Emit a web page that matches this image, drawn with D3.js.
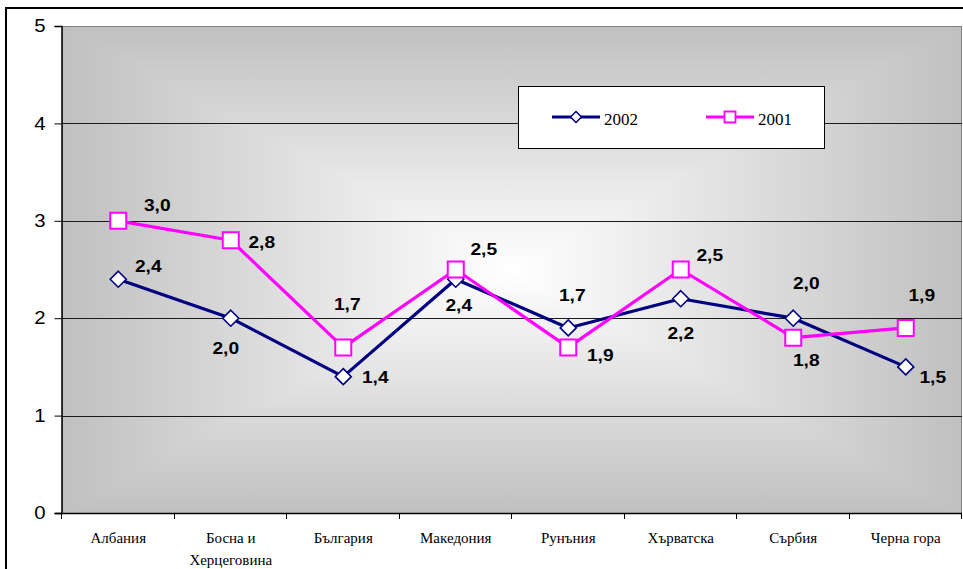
<!DOCTYPE html>
<html>
<head>
<meta charset="utf-8">
<script src="https://cdn.jsdelivr.net/npm/d3@7"></script>
<style>
  html, body { margin: 0; padding: 0; background: #fff; }
  svg { display: block; }
</style>
</head>
<body>
<svg id="chart" width="963" height="569"></svg>
<script>
// Countries on the horizontal axis (line breaks marked with \n)
const categories = ["Албания", "Босна и\nХерцеговина", "България", "Македония",
                    "Рунъния", "Хърватска", "Сърбия", "Черна гора"];
const seriesNames = ["2002", "2001"];
const values2002 = [2.4, 2.0, 1.4, 2.4, 1.9, 2.2, 2.0, 1.5];
const values2001 = [3.0, 2.8, 1.7, 2.5, 1.7, 2.5, 1.8, 1.9];
const yTicks = [0, 1, 2, 3, 4, 5];

// Placement of each value label relative to its marker (dx, dy in px)
const labelOffsets2002 = [[30,-13],[-5,30],[32,0],[3,26],[32,27],[0,34],[13,-35],[27,10]];
const labelOffsets2001 = [[39,-16],[31,2],[4,-43],[28,-21],[4,-52],[29,-15],[13,22],[16,-33]];

const colors = { "2002": "#000080", "2001": "#ff00ff" };
const fmt = v => d3.format(".1f")(v).replace(".", ",");
const stretch = 1.13; // sans-serif labels are drawn slightly wide

const svg = d3.select("#chart");
const plot = { left: 62, top: 26, right: 962, bottom: 513 };

const x = d3.scaleBand().domain(categories).range([plot.left, plot.right]).padding(0);
const y = d3.scaleLinear().domain([0, 5]).range([plot.bottom, plot.top]);
const cx = c => x(c) + x.bandwidth() / 2;

// Outer chart frame
svg.append("rect")
  .attr("x", 6).attr("y", 8).attr("width", 1000).attr("height", 600)
  .attr("fill", "#fff").attr("stroke", "#000").attr("stroke-width", 2);

// Plot area: rectangular "from centre" gradient built from four triangles
const defs = svg.append("defs");
const mx = (plot.left + plot.right) / 2, my = (plot.top + plot.bottom) / 2;
const edge = "#c0c0c0", centre = "#ffffff";
function lin(id, x1, y1, x2, y2) {
  const g = defs.append("linearGradient").attr("id", id)
    .attr("gradientUnits", "userSpaceOnUse")
    .attr("x1", x1).attr("y1", y1).attr("x2", x2).attr("y2", y2);
  g.append("stop").attr("offset", 0).attr("stop-color", edge);
  g.append("stop").attr("offset", 1).attr("stop-color", centre);
}
lin("gTop", 0, plot.top, 0, my);
lin("gBot", 0, plot.bottom, 0, my);
lin("gLeft", plot.left, 0, mx, 0);
lin("gRight", plot.right, 0, mx, 0);
const rg = defs.append("radialGradient").attr("id", "gBase");
rg.append("stop").attr("offset", 0).attr("stop-color", centre);
rg.append("stop").attr("offset", 1).attr("stop-color", edge);

svg.append("rect")
  .attr("x", plot.left).attr("y", plot.top)
  .attr("width", plot.right - plot.left).attr("height", plot.bottom - plot.top)
  .attr("fill", "url(#gBase)");
const L = plot.left, T = plot.top, R = plot.right, B = plot.bottom;
const tris = [
  ["gTop",   [[L,T],[R,T],[mx,my]]],
  ["gBot",   [[L,B],[R,B],[mx,my]]],
  ["gLeft",  [[L,T],[L,B],[mx,my]]],
  ["gRight", [[R,T],[R,B],[mx,my]]]
];
svg.append("g").selectAll("path").data(tris).join("path")
  .attr("d", d => "M" + d[1].map(p => p.join(",")).join("L") + "Z")
  .attr("fill", d => `url(#${d[0]})`)
  .attr("shape-rendering", "crispEdges");

// Plot border
svg.append("rect")
  .attr("x", plot.left + 0.5).attr("y", plot.top + 0.5)
  .attr("width", plot.right - plot.left - 1).attr("height", plot.bottom - plot.top)
  .attr("fill", "none").attr("stroke", "#808080").attr("stroke-width", 1);

// Horizontal gridlines
svg.append("g").selectAll("line").data(yTicks.filter(t => t > 0 && t < 5)).join("line")
  .attr("x1", plot.left).attr("x2", plot.right)
  .attr("y1", d => Math.round(y(d)) + 0.5).attr("y2", d => Math.round(y(d)) + 0.5)
  .attr("stroke", "#1a1a1a").attr("stroke-width", 1);

// Y axis
const yAxis = svg.append("g")
  .attr("transform", `translate(${plot.left - 0.5},0)`)
  .call(d3.axisLeft(y).tickValues(yTicks).tickFormat(d3.format("d")).tickSize(7).tickPadding(9));
yAxis.select(".domain").attr("stroke", "#000").attr("stroke-width", 1.5);
yAxis.selectAll(".tick line").attr("stroke", "#000");
yAxis.selectAll(".tick text")
  .attr("font-family", "Arial, 'Liberation Sans', sans-serif")
  .attr("font-size", 18).attr("fill", "#000")
  .attr("x", null)
  .attr("transform", `translate(-16,0) scale(${stretch},1)`);

// X axis line with ticks on category boundaries
svg.append("line")
  .attr("x1", plot.left - 7).attr("x2", plot.right)
  .attr("y1", plot.bottom + 0.5).attr("y2", plot.bottom + 0.5)
  .attr("stroke", "#000").attr("stroke-width", 1.5);
const boundaries = categories.map(c => x(c)).concat([x.range()[1]]);
svg.append("g").selectAll("line").data(boundaries).join("line")
  .attr("x1", d => Math.round(d) - 0.5).attr("x2", d => Math.round(d) - 0.5)
  .attr("y1", plot.bottom).attr("y2", plot.bottom + 6)
  .attr("stroke", "#000").attr("stroke-width", 1);

// Category labels
const xl = svg.append("g")
  .attr("font-family", "'Times New Roman', 'Liberation Serif', serif")
  .attr("font-size", 15).attr("fill", "#000").attr("text-anchor", "middle");
categories.forEach(c => {
  const t = xl.append("text").attr("x", cx(c)).attr("y", 543);
  c.split("\n").forEach((part, i) => {
    t.append("tspan").attr("x", cx(c)).attr("dy", i === 0 ? 0 : 22).text(part);
  });
});

// Series
const series = [
  { name: "2002", values: values2002, offsets: labelOffsets2002, marker: "diamond" },
  { name: "2001", values: values2001, offsets: labelOffsets2001, marker: "square" }
];
const line = d3.line().x(d => cx(d.c)).y(d => y(d.v));
const diamond = r => `M0,${-r}L${r},0L0,${r}L${-r},0Z`;
const square = r => `M${-r},${-r}H${r}V${r}H${-r}Z`;

series.forEach(s => {
  const pts = categories.map((c, i) => ({ c, v: s.values[i], off: s.offsets[i] }));
  const g = svg.append("g");
  g.append("path").datum(pts)
    .attr("d", line).attr("fill", "none")
    .attr("stroke", colors[s.name]).attr("stroke-width", 3.2)
    .attr("stroke-linejoin", "round");
  g.selectAll("path.m").data(pts).join("path").attr("class", "m")
    .attr("transform", d => `translate(${cx(d.c)},${y(d.v)})`)
    .attr("d", s.marker === "diamond" ? diamond(8) : square(8))
    .attr("fill", "#fff").attr("stroke", colors[s.name])
    .attr("stroke-width", s.marker === "diamond" ? 1.6 : 2);
});

// Value labels
series.forEach(s => {
  const pts = categories.map((c, i) => ({ c, v: s.values[i], off: s.offsets[i] }));
  svg.append("g").selectAll("text").data(pts).join("text")
    .attr("transform", d =>
      `translate(${cx(d.c) + d.off[0]},${y(d.v) + d.off[1] + 6}) scale(${stretch},1)`)
    .attr("text-anchor", "middle")
    .attr("font-family", "Arial, 'Liberation Sans', sans-serif")
    .attr("font-weight", "bold").attr("font-size", 17).attr("fill", "#000")
    .text(d => fmt(d.v));
});

// Legend
const lg = svg.append("g");
lg.append("rect").attr("x", 518.5).attr("y", 86.5).attr("width", 306).attr("height", 62)
  .attr("fill", "#fff").attr("stroke", "#000").attr("stroke-width", 1);
const legendItems = [
  { name: seriesNames[0], x0: 552, marker: "diamond" },
  { name: seriesNames[1], x0: 706, marker: "square" }
];
legendItems.forEach(it => {
  const ly = 117;
  lg.append("line").attr("x1", it.x0).attr("x2", it.x0 + 48)
    .attr("y1", ly).attr("y2", ly)
    .attr("stroke", colors[it.name]).attr("stroke-width", 3);
  lg.append("path")
    .attr("transform", `translate(${it.x0 + 24},${ly})`)
    .attr("d", it.marker === "diamond" ? diamond(5.5) : square(5.5))
    .attr("fill", "#fff").attr("stroke", colors[it.name])
    .attr("stroke-width", it.marker === "diamond" ? 1.5 : 1.8);
  lg.append("text").attr("x", it.x0 + 52).attr("y", 124.5)
    .attr("font-family", "'Times New Roman', 'Liberation Serif', serif")
    .attr("font-size", 17).attr("fill", "#000").text(it.name);
});
</script>
</body>
</html>
